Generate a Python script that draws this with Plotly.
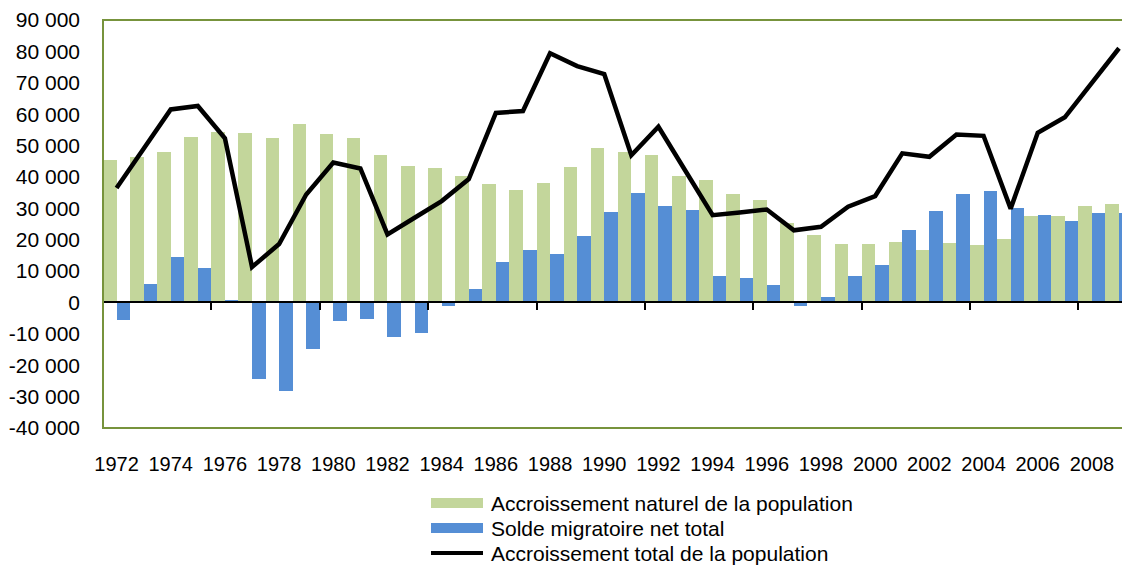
import plotly.graph_objects as go

years = list(range(1972, 2010))
natural = [45.4, 46.3, 48.0, 52.7, 54.2, 54.0, 52.5, 57.0, 53.8, 52.5,
           46.9, 43.5, 42.9, 40.2, 37.6, 35.9, 38.2, 43.3, 49.3, 48.0,
           46.9, 40.3, 38.9, 34.5, 32.7, 25.3, 21.4, 18.6, 18.6, 19.2,
           16.6, 18.9, 18.3, 20.2, 27.5, 27.6, 30.7, 31.3]
migration = [-5.5, 5.8, 14.5, 11.1, 0.7, -24.4, -28.2, -14.8, -6.0, -5.4,
             -11.0, -9.7, -1.1, 4.4, 13.0, 16.6, 15.4, 21.1, 28.7, 35.0,
             30.7, 29.5, 8.3, 7.9, 5.5, -1.1, 1.7, 8.3, 11.9, 23.0,
             29.0, 34.7, 35.4, 30.0, 27.8, 25.9, 28.4, 28.5]
total = [36.5, 49.0, 61.5, 62.6, 52.3, 11.3, 18.6, 34.4, 44.6, 42.7,
         21.7, 27.0, 32.3, 39.3, 60.4, 61.0, 79.4, 75.3, 72.8, 46.9,
         56.0, 41.9, 27.8, 28.7, 29.6, 23.0, 24.1, 30.5, 33.9, 47.5,
         46.4, 53.5, 53.1, 29.9, 54.1, 59.0, 69.8, 81.0]
natural = [v * 1000 for v in natural]
migration = [v * 1000 for v in migration]
total = [v * 1000 for v in total]

names = ["Accroissement naturel de la population",
         "Solde migratoire net total",
         "Accroissement total de la population"]
colors = ["#C3D69B", "#558ED5", "#000000"]

y_ticks = [-40000, -30000, -20000, -10000, 0, 10000, 20000, 30000, 40000,
           50000, 60000, 70000, 80000, 90000]
y_labels = ["-40 000", "-30 000", "-20 000", "-10 000", "0", "10 000", "20 000",
            "30 000", "40 000", "50 000", "60 000", "70 000", "80 000", "90 000"]
x_labels = list(range(1972, 2009, 2))
x_major_ticks = [1971.5 + 4 * k for k in range(10)]

FONT = "Liberation Sans, Arial, sans-serif"
x_range = [1971.5, 2009.11]
y_range = [-40000, 90000]

fig = go.Figure()
fig.add_trace(go.Bar(x=years, y=natural, name=names[0], marker_color=colors[0],
                     marker_line_width=0, showlegend=False))
fig.add_trace(go.Bar(x=years, y=migration, name=names[1], marker_color=colors[1],
                     marker_line_width=0, showlegend=False))
fig.add_trace(go.Scatter(x=years, y=total, name=names[2], mode="lines",
                         line=dict(color=colors[2], width=4.5), xaxis="x2",
                         showlegend=False))

zero_pos = (0 - y_range[0]) / (y_range[1] - y_range[0])

fig.update_layout(
    width=1122, height=565,
    margin=dict(l=103, r=0, t=20, b=137),
    paper_bgcolor="white", plot_bgcolor="white",
    barmode="group", bargap=0, bargroupgap=0,
    font=dict(family=FONT, size=20, color="#000000"),
    xaxis=dict(range=x_range, tickvals=x_labels, ticktext=[str(v) for v in x_labels],
               ticks="", showgrid=False, zeroline=False, showline=False,
               tickfont=dict(size=20), ticklabelstandoff=22),
    xaxis2=dict(range=x_range, overlaying="x", anchor="free", position=zero_pos,
                side="bottom", tickvals=x_major_ticks, ticks="outside", ticklen=7,
                tickwidth=2, tickcolor="#000000", showticklabels=False,
                showline=True, linecolor="#000000", linewidth=2,
                showgrid=False, zeroline=False),
    yaxis=dict(range=y_range, tickvals=y_ticks, ticktext=y_labels, ticks="",
               showgrid=False, zeroline=False, showline=False,
               tickfont=dict(size=21), ticklabelstandoff=22),
)

# plot-area border (right edge lies beyond the visible canvas)
fig.add_shape(type="rect", xref="paper", yref="paper", x0=0, x1=1.05, y0=0, y1=1,
              line=dict(color="#77933C", width=2), fillcolor="rgba(0,0,0,0)",
              layer="above")

# legend built from swatches + text
plot_w = 1122 - 103
plot_h = 565 - 20 - 137
sw_x0 = (431 - 103) / plot_w
sw_x1 = (483 - 103) / plot_w
txt_x = (489 - 103) / plot_w
row_py = [503, 528, 553]
for i, (nm, col) in enumerate(zip(names, colors)):
    yc = (428 - row_py[i]) / plot_h
    if i < 2:
        half = 5 / plot_h
        fig.add_shape(type="rect", xref="paper", yref="paper", x0=sw_x0, x1=sw_x1,
                      y0=yc - half, y1=yc + half, fillcolor=col, line_width=0)
    else:
        fig.add_shape(type="line", xref="paper", yref="paper", x0=sw_x0, x1=sw_x1,
                      y0=yc, y1=yc, line=dict(color=col, width=4))
    fig.add_annotation(xref="paper", yref="paper", x=txt_x, y=yc, text=nm,
                       showarrow=False, xanchor="left", yanchor="middle",
                       font=dict(size=21, family=FONT, color="#000000"))

fig.write_html("out.html", config={"displayModeBar": False},
               post_script="document.body.style.margin='0';document.body.style.overflow='hidden';")
